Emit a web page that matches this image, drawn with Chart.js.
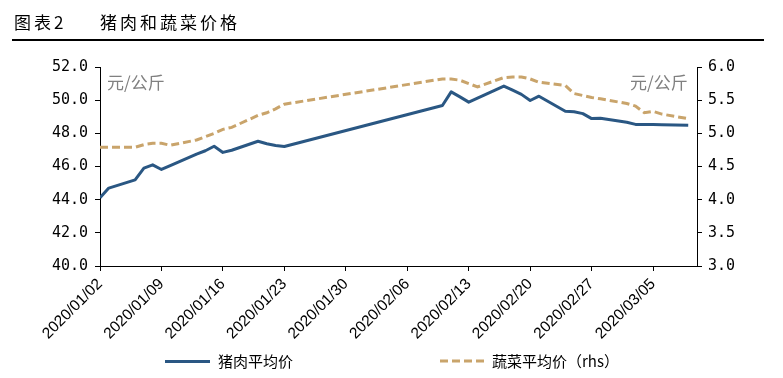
<!DOCTYPE html>
<html><head><meta charset="utf-8">
<script src="https://cdn.jsdelivr.net/npm/chart.js@4"></script>
<style>
html,body{margin:0;padding:0;background:#fff;}
#wrap{position:relative;width:783px;height:378px;overflow:hidden;background:#fff;}
#c{position:absolute;left:0;top:0;}
.t{position:absolute;font-family:"Noto Sans CJK SC";white-space:nowrap;line-height:1;}
</style></head><body>
<div id="wrap">
<canvas id="c" width="783" height="378"></canvas>
<div class="t" style="left:14px;top:13px;font-size:17px;letter-spacing:3px;color:#000">图表2</div>
<div class="t" style="left:100px;top:13px;font-size:17px;letter-spacing:3px;color:#000">猪肉和蔬菜价格</div>
<div style="position:absolute;left:12px;top:39px;width:752px;height:1.5px;background:#000"></div>
<div class="t" style="left:107px;top:73px;font-size:17px;color:#808080">元/公斤</div>
<div class="t" style="left:630px;top:73px;font-size:17px;color:#808080">元/公斤</div>
<div style="position:absolute;left:165px;top:359.5px;width:45px;height:3px;background:#2A5783"></div>
<div class="t" style="left:218px;top:353px;font-size:15px;color:#000">猪肉平均价</div>
<svg style="position:absolute;left:440px;top:359px" width="46" height="4"><line x1="0" y1="2" x2="46" y2="2" stroke="#C9A46B" stroke-width="3" stroke-dasharray="8,4"/></svg>
<div class="t" style="left:492px;top:353px;font-size:15px;color:#000">蔬菜平均价（rhs）</div>
</div>
<script>
const tickLabels = ['2020/01/02','2020/01/09','2020/01/16','2020/01/23','2020/01/30','2020/02/06','2020/02/13','2020/02/20','2020/02/27','2020/03/05'];
const dates = ['2020/01/02','2020/01/03','2020/01/06','2020/01/07','2020/01/08','2020/01/09','2020/01/10','2020/01/13','2020/01/14','2020/01/15','2020/01/16','2020/01/17','2020/01/20','2020/01/21','2020/01/22','2020/01/23',
 '2020/02/10','2020/02/11','2020/02/12','2020/02/13','2020/02/14','2020/02/17','2020/02/18','2020/02/19','2020/02/20','2020/02/21','2020/02/24','2020/02/25','2020/02/26','2020/02/27','2020/02/28',
 '2020/03/02','2020/03/03','2020/03/04','2020/03/05','2020/03/06','2020/03/09'];
const porkPrice = [44.12,44.70,45.19,45.90,46.10,45.82,46.05,46.75,46.95,47.22,46.85,46.98,47.52,47.37,47.27,47.21,
 49.68,50.50,50.20,49.88,50.12,50.85,50.60,50.35,49.98,50.24,49.33,49.30,49.19,48.89,48.91,
 48.67,48.54,48.53,48.53,48.52,48.48];
const vegPrice = [4.79,4.79,4.79,4.83,4.85,4.85,4.82,4.90,4.95,5.00,5.06,5.09,5.27,5.31,5.37,5.44,
 5.82,5.82,5.80,5.75,5.70,5.84,5.85,5.85,5.82,5.77,5.72,5.60,5.57,5.54,5.52,
 5.45,5.41,5.31,5.33,5.29,5.22];
const seriesNames = ['猪肉平均价','蔬菜平均价（rhs）'];
const axisEnd = '2020/03/10';

function dayOf(s){const p=s.split('/').map(Number);const b=tickLabels[0].split('/').map(Number);
  return Math.round((Date.UTC(p[0],p[1]-1,p[2])-Date.UTC(b[0],b[1]-1,b[2]))/86400000);}
const xs = dates.map(dayOf);
const porkData = porkPrice.map((v,i)=>({x:xs[i],y:v}));
const vegData = vegPrice.map((v,i)=>({x:xs[i],y:v}));

new Chart(document.getElementById('c'),{
  type:'line',
  data:{datasets:[
    {label:seriesNames[0],data:porkData,yAxisID:'y',borderColor:'#2A5783',backgroundColor:'#2A5783',borderWidth:3,pointRadius:0,tension:0,borderJoinStyle:'round'},
    {label:seriesNames[1],data:vegData,yAxisID:'y1',borderColor:'#C9A46B',backgroundColor:'#C9A46B',borderWidth:3,borderDash:[8,4],pointRadius:0,tension:0}
  ]},
  options:{
    responsive:false,animation:false,devicePixelRatio:1,
    layout:{padding:{top:67,left:0,right:0,bottom:0}},
    plugins:{legend:{display:false},title:{display:false},tooltip:{enabled:false}},
    scales:{
      x:{type:'linear',min:0,max:dayOf(axisEnd),
        afterBuildTicks:s=>{s.ticks=tickLabels.map(l=>({value:dayOf(l)}));},
        ticks:{autoSkip:false,maxRotation:45,minRotation:45,color:'#000',padding:4,
          font:{family:'Liberation Sans',size:15.5},callback:(v,i)=>tickLabels[i]},
        grid:{drawOnChartArea:false,drawTicks:true,tickLength:5,color:'#000'},
        border:{color:'#000',width:1},
        afterFit:s=>{s.height=112;}},
      y:{position:'left',min:40,max:52,
        ticks:{stepSize:2,color:'#000',padding:7,font:{family:'DejaVu Sans Mono',size:15},callback:v=>v.toFixed(1)},
        grid:{drawOnChartArea:false,drawTicks:true,tickLength:5,color:'#000'},
        border:{color:'#000',width:1},
        afterFit:s=>{s.width=100;}},
      y1:{position:'right',min:3,max:6,
        ticks:{stepSize:0.5,color:'#000',padding:6,font:{family:'DejaVu Sans Mono',size:15},callback:v=>v.toFixed(1)},
        grid:{drawOnChartArea:false,drawTicks:true,tickLength:5,color:'#000'},
        border:{color:'#000',width:1},
        afterFit:s=>{s.width=86;}}
    }
  }
});
</script>
</body></html>
